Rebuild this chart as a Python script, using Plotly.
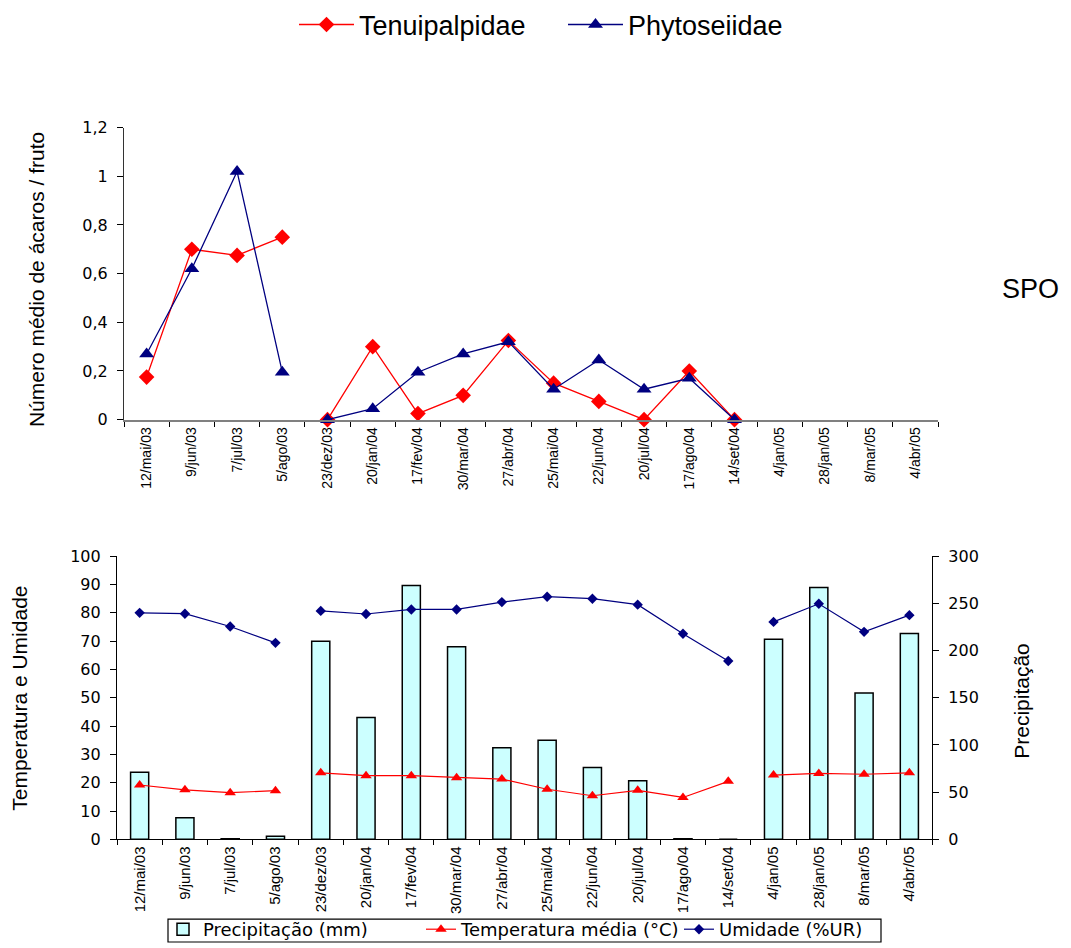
import plotly.graph_objects as go

# Sampling dates (shared by both panels)
datas = ["12/mai/03", "9/jun/03", "7/jul/03", "5/ago/03", "23/dez/03", "20/jan/04",
         "17/fev/04", "30/mar/04", "27/abr/04", "25/mai/04", "22/jun/04", "20/jul/04",
         "17/ago/04", "14/set/04", "4/jan/05", "28/jan/05", "8/mar/05", "4/abr/05"]

# Mean number of mites per fruit
tenuipalpidae = [0.175, 0.70, 0.675, 0.75, 0.0, 0.30, 0.025, 0.10, 0.325, 0.15,
                 0.075, 0.0, 0.20, 0.0, None, None, None, None]
phytoseiidae = [0.27, 0.62, 1.02, 0.195, 0.0, 0.045, 0.195, 0.27, 0.32, 0.125,
                0.245, 0.125, 0.17, 0.0, None, None, None, None]

# Weather
precipitacao = [71, 23, 0.5, 3.3, 210, 129, 269, 204, 97, 105, 76, 62, 0.5, 0,
                212, 267, 155, 218]
temperatura = [19.2, 17.5, 16.5, 17.2, 23.5, 22.5, 22.5, 21.8, 21.3, 17.7, 15.4,
               17.3, 14.8, 20.5, 22.7, 23.3, 23.0, 23.5]
umidade = [80, 79.7, 75.2, 69.4, 80.7, 79.6, 81.2, 81.2, 83.8, 85.7, 85, 82.9,
           72.6, 63, 76.8, 83.2, 73.3, 79.2]

# Sampling campaigns are drawn as separate line pieces
segmentos_acaros = [(0, 4), (4, 14)]
segmentos_clima = [(0, 4), (4, 14), (14, 18)]

W, H = 1071, 948
RED = "#FF0000"
NAVY = "#000080"
ARIAL = "Liberation Sans, Arial, sans-serif"
WIDE = "DejaVu Sans, Verdana, sans-serif"


def fx(px):
    return px / W


def fy(px):
    return 1 - px / H


fig = go.Figure()

# ---- top panel: mites ----
for nome, vals, cor, simb, tam in [
    ("Tenuipalpidae", tenuipalpidae, RED, "diamond", 12),
    ("Phytoseiidae", phytoseiidae, NAVY, "triangle-up", 13),
]:
    for k, (a, b) in enumerate(segmentos_acaros):
        fig.add_trace(go.Scatter(
            x=datas[a:b], y=vals[a:b], mode="lines+markers", name=nome,
            legendgroup=nome, showlegend=(k == 0), legend="legend",
            line=dict(color=cor, width=1.3),
            marker=dict(symbol=simb, size=tam, color=cor),
            xaxis="x", yaxis="y", cliponaxis=False,
        ))

# ---- bottom panel: weather ----
fig.add_trace(go.Bar(
    x=datas, y=precipitacao, name="Precipitação (mm)", legend="legend2",
    marker=dict(color="#CCFFFF", line=dict(color="black", width=1.5)),
    xaxis="x2", yaxis="y2",
))
for nome, vals, cor, simb, tam in [
    ("Temperatura média (°C)", temperatura, RED, "triangle-up", 10),
    ("Umidade (%UR)", umidade, NAVY, "diamond", 8),
]:
    for k, (a, b) in enumerate(segmentos_clima):
        fig.add_trace(go.Scatter(
            x=datas[a:b], y=vals[a:b], mode="lines+markers", name=nome,
            legendgroup=nome, showlegend=(k == 0), legend="legend2",
            line=dict(color=cor, width=1.2),
            marker=dict(symbol=simb, size=tam, color=cor),
            xaxis="x2", yaxis="y3",
        ))

cat_axis = dict(
    type="category", categoryorder="array", categoryarray=datas,
    range=[-0.5, len(datas) - 0.5], tickangle=-90, ticks="outside",
    tickson="boundaries", ticklen=5, tickcolor="black", showgrid=False,
    zeroline=False, showline=True, automargin=False, fixedrange=True,
)
val_axis = dict(
    ticks="outside", ticklen=6, tickcolor="black", showline=True,
    showgrid=False, zeroline=False, automargin=False, ticklabelstandoff=6,
    tickfont=dict(family=WIDE, size=16),
)

fig.update_layout(
    width=W, height=H, autosize=False,
    margin=dict(l=0, r=0, t=0, b=0),
    template="none", paper_bgcolor="white", plot_bgcolor="white",
    separators=",.",
    font=dict(family=ARIAL, color="black"),
    bargap=0.6,
    xaxis=dict(cat_axis, domain=[fx(124), fx(938)], anchor="y",
               linecolor="#808080", linewidth=2,
               tickfont=dict(family=ARIAL, size=14)),
    yaxis=dict(val_axis, domain=[fy(418), fy(125)], anchor="x", range=[0, 1.2],
               dtick=0.2, linecolor="#333333", linewidth=1.2),
    xaxis2=dict(cat_axis, domain=[fx(117), fx(932)], anchor="y2",
                linecolor="black", linewidth=1.2,
                tickfont=dict(family=ARIAL, size=15)),
    yaxis2=dict(val_axis, domain=[fy(839), fy(555)], anchor="x2", side="right",
                range=[0, 300], dtick=50, linecolor="black", linewidth=1.2),
    yaxis3=dict(val_axis, overlaying="y2", anchor="x2", side="left",
                range=[0, 100], dtick=10, linecolor="black", linewidth=1.2),
    legend=dict(orientation="h", x=fx(294), xanchor="left", y=fy(22),
                yanchor="middle", font=dict(family=ARIAL, size=27),
                itemwidth=55, entrywidth=199, entrywidthmode="pixels",
                bgcolor="rgba(0,0,0,0)", itemclick=False),
    legend2=dict(orientation="h", x=fx(163), xanchor="left", y=0, yanchor="bottom",
                 font=dict(family=WIDE, size=18),
                 entrywidth=213, entrywidthmode="pixels",
                 borderwidth=0, bgcolor="rgba(0,0,0,0)", itemclick=False),
    shapes=[
        # frame around the weather legend
        dict(type="rect", xref="paper", yref="paper",
             x0=fx(168), x1=fx(881), y0=fy(942), y1=fy(919),
             line=dict(color="black", width=1.2), fillcolor="white", layer="below"),
    ],
    annotations=[
        dict(text="Número médio de ácaros / fruto", xref="paper", yref="paper",
             x=fx(36), y=fy(278), textangle=-90, showarrow=False,
             font=dict(family=ARIAL, size=21), xanchor="center", yanchor="middle"),
        dict(text="Temperatura e Umidade", xref="paper", yref="paper",
             x=fx(20), y=fy(698), textangle=-90, showarrow=False,
             font=dict(family=ARIAL, size=21), xanchor="center", yanchor="middle"),
        dict(text="Precipitação", xref="paper", yref="paper",
             x=fx(1022), y=fy(700), textangle=-90, showarrow=False,
             font=dict(family=ARIAL, size=21), xanchor="center", yanchor="middle"),
        dict(text="SPO", xref="paper", yref="paper", x=fx(1030), y=fy(287),
             showarrow=False, font=dict(family=ARIAL, size=27),
             xanchor="center", yanchor="middle"),
    ],
)

fig.write_html("out.html")
